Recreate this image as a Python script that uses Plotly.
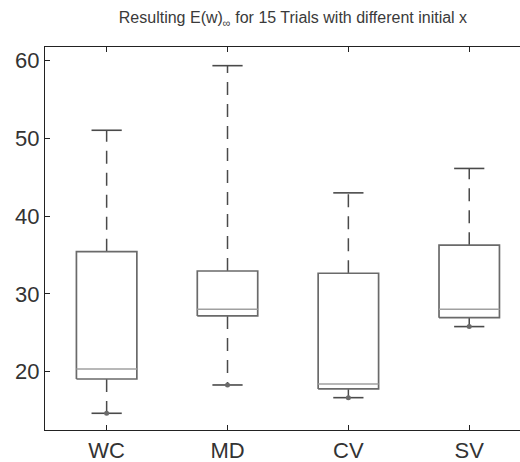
import plotly.graph_objects as go

categories = ["WC", "MD", "CV", "SV"]
lower_whisker = [14.65, 18.29, 16.66, 25.8]
q1 = [19.06, 27.17, 17.78, 26.95]
median = [20.35, 28.03, 18.42, 28.03]
q3 = [35.43, 32.95, 32.66, 36.27]
upper_whisker = [51.05, 59.36, 43.0, 46.14]
y_ticks = [20, 30, 40, 50, 60]

BOX_HALF = 0.25
CAP_HALF = 0.125
box_color = "#6a6a6a"
med_color = "#a0a0a0"
whisk_color = "#4a4a4a"

fig = go.Figure()
for i, cat in enumerate(categories):
    xc = i + 1
    # dashed whiskers
    fig.add_trace(go.Scatter(x=[xc, xc], y=[q3[i], upper_whisker[i]], mode="lines",
                             line=dict(color=whisk_color, width=1.5, dash="13px,9px"),
                             showlegend=False, hoverinfo="skip"))
    fig.add_trace(go.Scatter(x=[xc, xc], y=[q1[i], lower_whisker[i]], mode="lines",
                             line=dict(color=whisk_color, width=1.5, dash="13px,9px"),
                             showlegend=False, hoverinfo="skip"))
    # caps
    for v in (upper_whisker[i], lower_whisker[i]):
        fig.add_trace(go.Scatter(x=[xc - CAP_HALF, xc + CAP_HALF], y=[v, v], mode="lines",
                                 line=dict(color=whisk_color, width=1.6),
                                 showlegend=False, hoverinfo="skip"))
    # box
    fig.add_trace(go.Scatter(x=[xc - BOX_HALF, xc + BOX_HALF, xc + BOX_HALF, xc - BOX_HALF, xc - BOX_HALF],
                             y=[q1[i], q1[i], q3[i], q3[i], q1[i]], mode="lines",
                             line=dict(color=box_color, width=1.7),
                             showlegend=False, hoverinfo="skip"))
    # median
    fig.add_trace(go.Scatter(x=[xc - BOX_HALF, xc + BOX_HALF], y=[median[i], median[i]], mode="lines",
                             line=dict(color=med_color, width=1.5),
                             showlegend=False, hoverinfo="skip"))
    # dot at lower whisker
    fig.add_trace(go.Scatter(x=[xc], y=[lower_whisker[i]], mode="markers",
                             marker=dict(color=box_color, size=5),
                             showlegend=False, hoverinfo="skip"))

fig.update_layout(
    width=520, height=462,
    margin=dict(l=45, r=0, t=47, b=32),
    plot_bgcolor="white", paper_bgcolor="white",
    font=dict(family="Liberation Sans, Arial, sans-serif", color="#333"),
    title=dict(text="Resulting E(w)<sub>∞</sub> for 15 Trials with different initial x",
               x=0.522, xref="paper", xanchor="center", y=0.962, yanchor="middle",
               font=dict(size=16, color="#3a3a3a")),
    xaxis=dict(range=[0.49, 4.42], tickmode="array", tickvals=[1, 2, 3, 4], ticktext=categories,
               showgrid=False, zeroline=False, showline=True, linecolor="#222", linewidth=1.3,
               mirror="ticks", ticks="inside", ticklen=5, tickcolor="#222",
               tickfont=dict(size=22)),
    yaxis=dict(range=[12.5, 61.76], tickmode="array", tickvals=y_ticks,
               showgrid=False, zeroline=False, showline=True, linecolor="#222", linewidth=1.3,
               ticks="inside", ticklen=5, tickcolor="#222", tickfont=dict(size=22)),
)
fig.write_html("out.html")
